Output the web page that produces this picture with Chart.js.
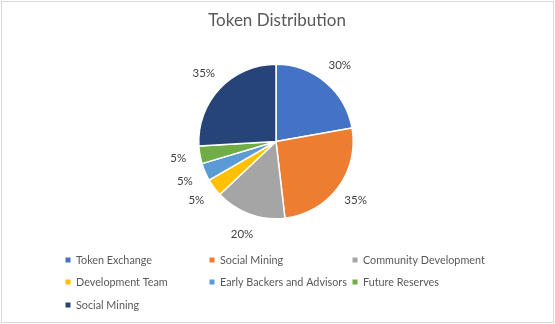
<!DOCTYPE html>
<html>
<head>
<meta charset="utf-8">
<script src="https://cdn.jsdelivr.net/npm/chart.js@4/dist/chart.umd.min.js"></script>
<style>
  html, body { margin: 0; padding: 0; background: #fff; }
  #wrap { position: relative; width: 555px; height: 324px; }
</style>
</head>
<body>
<div id="wrap"><canvas id="chart"></canvas></div>
<script>
// Token allocation
const categories = ['Token Exchange', 'Social Mining', 'Community Development',
  'Development Team', 'Early Backers and Advisors', 'Future Reserves', 'Social Mining'];
const shares = [30, 35, 20, 5, 5, 5, 35];
const sliceColors = ['#4472C4', '#ED7D31', '#A5A5A5', '#FFC000', '#5B9BD5', '#70AD47', '#264478'];
const chartTitle = 'Token Distribution';

const FONT = 'Lato, "Open Sans", sans-serif';

// Frame, title, value labels and the three-column legend
const decorations = {
  id: 'decorations',
  afterDraw(chart) {
    const ctx = chart.ctx;
    const W = chart.width, H = chart.height;
    ctx.save();
    // chart frame
    ctx.strokeStyle = '#D9D9D9';
    ctx.lineWidth = 1;
    ctx.strokeRect(1.5, 1.5, W - 3, H - 3);

    // title
    ctx.fillStyle = '#595959';
    ctx.font = '17px ' + FONT;
    ctx.textAlign = 'center';
    ctx.textBaseline = 'middle';
    ctx.fillText(chartTitle, 277, 21);

    // value labels outside each slice
    const meta = chart.getDatasetMeta(0);
    ctx.font = '11.5px ' + FONT;
    ctx.fillStyle = '#404040';
    meta.data.forEach((arc, i) => {
      const p = arc.getProps(['x', 'y', 'startAngle', 'endAngle', 'outerRadius'], true);
      const mid = (p.startAngle + p.endAngle) / 2;
      const r = p.outerRadius + 22;
      ctx.fillText(shares[i] + '%', p.x + Math.cos(mid) * r, p.y + Math.sin(mid) * r);
    });

    // legend
    const colX = [68, 212, 355];
    const rowY = [260, 282, 305];
    ctx.font = '10.8px ' + FONT;
    ctx.textAlign = 'left';
    categories.forEach((name, i) => {
      const x = colX[i % 3], y = rowY[Math.floor(i / 3)];
      ctx.fillStyle = sliceColors[i];
      ctx.fillRect(x - 2.5, y - 2.5, 5, 5);
      ctx.fillStyle = '#595959';
      ctx.fillText(name, x + 8, y + 0.5);
    });
    ctx.restore();
  }
};

new Chart(document.getElementById('chart'), {
  type: 'pie',
  data: {
    labels: categories,
    datasets: [{
      data: shares,
      backgroundColor: sliceColors,
      borderColor: '#FFFFFF',
      borderWidth: 1.5
    }]
  },
  options: {
    responsive: true,
    maintainAspectRatio: false,
    animation: false,
    layout: { padding: { top: 63, bottom: 104, left: 198, right: 201 } },
    plugins: {
      legend: { display: false },
      title: { display: false },
      tooltip: { enabled: false }
    }
  },
  plugins: [decorations]
});
</script>
</body>
</html>
